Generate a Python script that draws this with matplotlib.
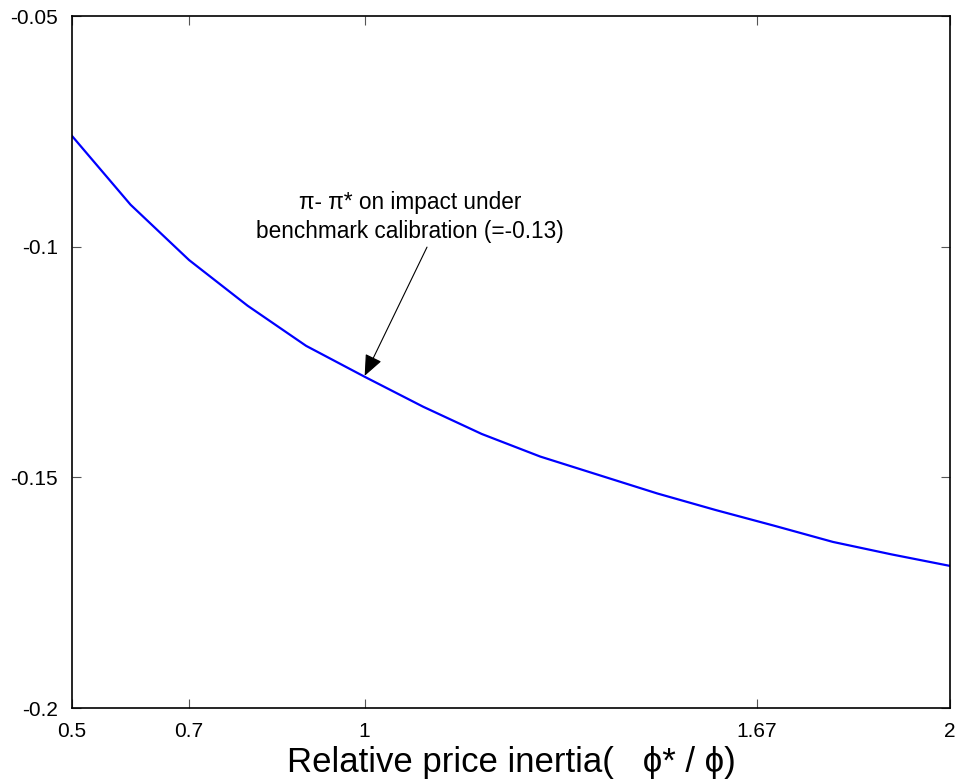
import matplotlib
matplotlib.use("Agg")
import matplotlib.pyplot as plt

plt.rcParams['font.family'] = ['Liberation Sans', 'DejaVu Sans']

# Data
relative_inertia = [0.5, 0.6, 0.7, 0.8, 0.9, 1.0, 1.1, 1.2, 1.3, 1.4, 1.5, 1.6, 1.7, 1.8, 1.9, 2.0]
pi_gap_on_impact = [-0.0760, -0.0909, -0.1029, -0.1128, -0.1215, -0.1282, -0.1347, -0.1406,
                    -0.1455, -0.1495, -0.1535, -0.1571, -0.1605, -0.1640, -0.1667, -0.1692]
x_ticks = [0.5, 0.7, 1.0, 1.67, 2.0]
x_tick_labels = ['0.5', '0.7', '1', '1.67', '2']
y_ticks = [-0.05, -0.1, -0.15, -0.2]
y_tick_labels = ['-0.05', '-0.1', '-0.15', '-0.2']
benchmark_x = 1.0
benchmark_y = -0.128
annotation_text = "π- π* on impact under\nbenchmark calibration (=-0.13)"
x_label = "Relative price inertia(   ϕ* / ϕ)"

fig = plt.figure(figsize=(9.59, 7.84), dpi=100)
ax = fig.add_axes([72/959, 1 - 708/784, (950-72)/959, (708-16)/784])

ax.plot(relative_inertia, pi_gap_on_impact, color=(0, 0, 1), linewidth=1.6)

ax.set_xlim(0.5, 2.0)
ax.set_ylim(-0.2, -0.05)
ax.set_xticks(x_ticks)
ax.set_xticklabels(x_tick_labels)
ax.set_yticks(y_ticks)
ax.set_yticklabels(y_tick_labels)

ax.tick_params(axis='both', which='both', direction='in', length=6.5, width=0.8,
               color='#555555', top=True, right=True, labelsize=15, pad=10,
               labelcolor='black')
for s in ax.spines.values():
    s.set_linewidth(1.2)
    s.set_color('black')

ax.set_xlabel(x_label, fontsize=25, labelpad=4)

ax.text(1.0775, -0.0936, annotation_text, ha='center', va='center',
        multialignment='center', fontsize=16.3, linespacing=1.3)
ax.annotate('', xy=(benchmark_x, benchmark_y), xytext=(1.1065, -0.1001),
            arrowprops=dict(arrowstyle='-|>,head_length=1.3,head_width=0.55',
                            color='black', lw=0.8, shrinkA=0, shrinkB=0))

fig.savefig('out.png', dpi=100)
